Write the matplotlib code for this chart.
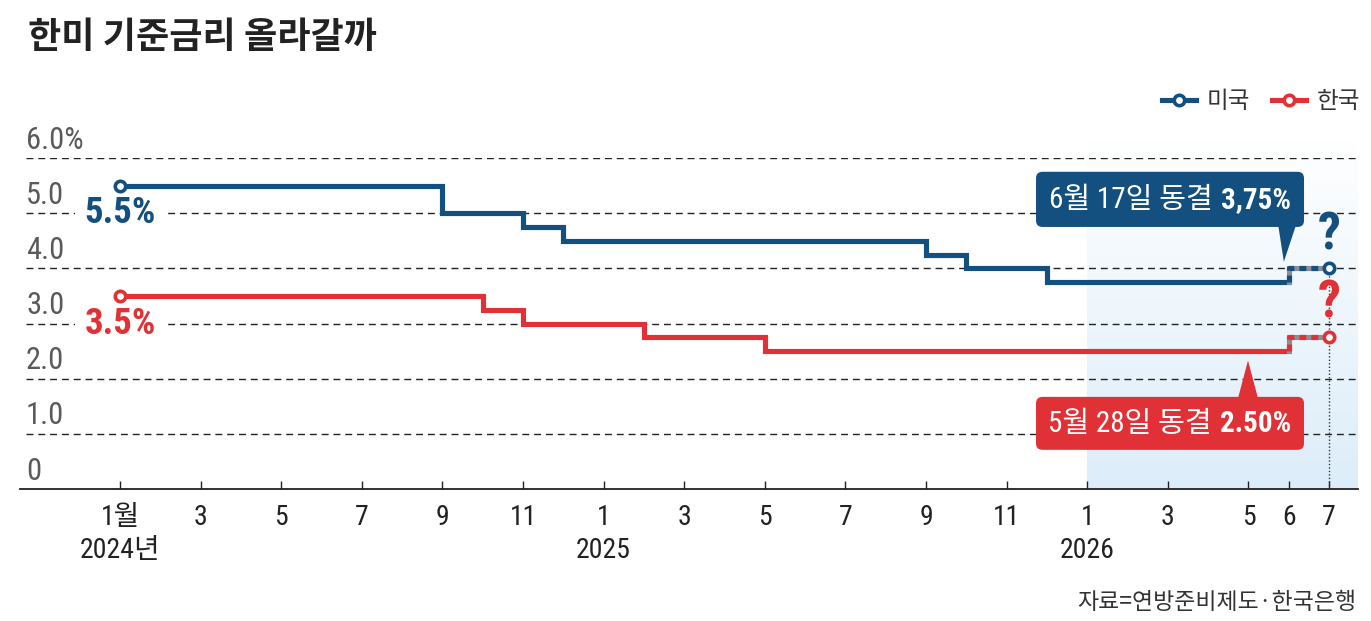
import matplotlib
matplotlib.use("Agg")
import matplotlib.pyplot as plt
import numpy as np
from matplotlib.patches import FancyBboxPatch, Polygon
from matplotlib.lines import Line2D
from matplotlib.colors import LinearSegmentedColormap
from matplotlib.offsetbox import TextArea, HPacker, AnnotationBbox

plt.rcParams['lines.scale_dashes'] = False

# ---------------- data ----------------
# month index: 0 = Jan 2024
us_months = [0, 8, 10, 11, 20, 21, 23]
us_rates = [5.5, 5.0, 4.75, 4.5, 4.25, 4.0, 3.75]
kr_months = [0, 9, 10, 13, 16]
kr_rates = [3.5, 3.25, 3.0, 2.75, 2.5]
latest_month = 29          # Jun 2026
outlook_month = 30         # Jul 2026
us_outlook = 4.0
kr_outlook = 2.75

tick_months = [0, 2, 4, 6, 8, 10, 12, 14, 16, 18, 20, 22, 24, 26, 28, 29, 30]
tick_labels = ['1월', '3', '5', '7', '9', '11', '1', '3', '5', '7', '9', '11',
               '1', '3', '5', '6', '7']
year_months = [0, 12, 24]
year_labels = ['2024년', '2025', '2026']
y_values = [0, 1, 2, 3, 4, 5, 6]
y_labels = ['0', '1.0', '2.0', '3.0', '4.0', '5.0', '6.0%']

BLUE = '#14507f'
RED = '#e03236'
GRAY_TXT = '#5a5a5a'
COND = ['Roboto Condensed', 'Archivo Narrow', 'Noto Sans CJK KR', 'DejaVu Sans']
KR = ['Noto Sans CJK KR', 'DejaVu Sans']

W, H = 1371, 621
fig = plt.figure(figsize=(W / 100, H / 100), dpi=100)
fig.patch.set_facecolor('white')
ax = fig.add_axes([20 / W, (H - 489) / H, 1338 / W, (489 - 158) / H])
px_per_month = 40.3
x_left = (20 - 120) / px_per_month
x_right = (1358 - 120) / px_per_month
ax.set_xlim(x_left, x_right)
ax.set_ylim(0, 6)
for s in ['top', 'right', 'left']:
    ax.spines[s].set_visible(False)
ax.spines['bottom'].set_linewidth(1.3)
ax.spines['bottom'].set_color('#222222')
ax.set_facecolor('none')

# gradient shading for 2026
grad = np.linspace(0, 1, 256).reshape(-1, 1)
cmap = LinearSegmentedColormap.from_list('g', ['#dcedf9', '#ffffff'])
ax.imshow(grad, extent=[24, x_right, 0, 6.33], origin='lower', aspect='auto',
          cmap=cmap, zorder=0, clip_on=False)

# gridlines
for v in y_values[1:]:
    ax.axhline(v, xmin=6 / 1338, xmax=1, color='#222222', lw=1.0,
               dashes=(5, 3.5), zorder=1)

# y labels
for v, lab in zip(y_values, y_labels):
    ax.text(x_left + 6 / px_per_month, v + 0.17, lab, ha='left', va='baseline',
            fontsize=22, color=GRAY_TXT, family=COND, zorder=3)

# ticks
ax.set_xticks(tick_months)
ax.set_xticklabels(tick_labels, fontsize=20, color='#222222', family=COND)
ax.tick_params(axis='x', direction='in', length=6, width=1.0, color='#222222', pad=11)
ax.tick_params(axis='y', left=False, labelleft=False)
for m, lab in zip(year_months, year_labels):
    ax.text(m, -1.12, lab, ha='center', va='center', fontsize=20,
            color='#222222', family=COND, clip_on=False)

# vertical dotted line at outlook
ax.plot([outlook_month, outlook_month], [0, us_outlook], color='#333333',
        lw=1.0, ls=(0, (1, 1.5)), zorder=2)

LW = 3.7
# US line
ax.step(us_months + [latest_month], us_rates + [us_rates[-1]], where='post',
        color=BLUE, lw=LW, solid_joinstyle='miter', solid_capstyle='butt', zorder=4)
ax.plot([latest_month, latest_month, outlook_month], [us_rates[-1], us_outlook, us_outlook],
        color='#8a8f96', lw=LW, solid_joinstyle='miter', zorder=4)
ax.plot([latest_month, latest_month, outlook_month], [us_rates[-1], us_outlook, us_outlook],
        color=BLUE, lw=LW, dashes=(5, 3.6), zorder=4.1)
# KR line
ax.step(kr_months + [latest_month], kr_rates + [kr_rates[-1]], where='post',
        color=RED, lw=LW, solid_joinstyle='miter', solid_capstyle='butt', zorder=4)
ax.plot([latest_month, latest_month, outlook_month], [kr_rates[-1], kr_outlook, kr_outlook],
        color='#8a8f96', lw=LW, solid_joinstyle='miter', zorder=4)
ax.plot([latest_month, latest_month, outlook_month], [kr_rates[-1], kr_outlook, kr_outlook],
        color=RED, lw=LW, dashes=(5, 3.6), zorder=4.1)

# end markers
for xs, ys, c in [([us_months[0], outlook_month], [us_rates[0], us_outlook], BLUE),
                  ([kr_months[0], outlook_month], [kr_rates[0], kr_outlook], RED)]:
    ax.plot(xs, ys, ls='none', marker='o', ms=7.5, mfc='white', mec=c, mew=2.6,
            zorder=5, clip_on=False)

# start value labels
ax.text(us_months[0], 5.0, '5.5%', ha='center', va='center', fontsize=26.5,
        weight='bold', color=BLUE, family=COND, zorder=3,
        bbox=dict(boxstyle='square,pad=0.25', fc='white', ec='none'))
ax.text(kr_months[0], 3.0, '3.5%', ha='center', va='center', fontsize=26.5,
        weight='bold', color=RED, family=COND, zorder=3,
        bbox=dict(boxstyle='square,pad=0.25', fc='white', ec='none'))

# question marks
ax.text(outlook_month, 4.6, '?', ha='center', va='center', fontsize=37,
        weight='bold', color=BLUE, family=COND, zorder=5)
ax.text(outlook_month, 3.37, '?', ha='center', va='center', fontsize=37,
        weight='bold', color=RED, family=COND, zorder=5)

# callout boxes
py = 55.17
aspect = px_per_month / py


def callout(x0, y0, w, h, color, tri, normal, bold):
    box = FancyBboxPatch((x0, y0), w, h,
                         boxstyle='round,pad=0,rounding_size=0.16',
                         mutation_aspect=aspect, fc=color, ec='none', zorder=6)
    ax.add_patch(box)
    ax.add_patch(Polygon(tri, closed=True, fc=color, ec='none', zorder=6))
    t1 = TextArea(normal, textprops=dict(color='white', fontsize=21, family=COND))
    t2 = TextArea(bold, textprops=dict(color='white', fontsize=21, family=COND,
                                        weight='bold'))
    pack = HPacker(children=[t1, t2], sep=6, pad=0, align='baseline')
    ab = AnnotationBbox(pack, (x0 + w / 2, y0 + h / 2 - 0.02), xycoords='data',
                        frameon=False, box_alignment=(0.5, 0.5), zorder=7)
    ax.add_artist(ab)


callout(22.73, 4.75, 6.65, 1.0, BLUE,
        [(28.74, 4.78), (29.18, 4.78), (28.88, 4.12)],
        '6월 17일 동결', '3,75%')
callout(22.73, 0.71, 6.65, 0.96, RED,
        [(27.74, 1.64), (28.24, 1.64), (27.99, 2.33)],
        '5월 28일 동결', '2.50%')

# legend
handles = [Line2D([], [], color=BLUE, lw=LW, marker='o', ms=7.5, mfc='white', mec=BLUE, mew=2.6),
           Line2D([], [], color=RED, lw=LW, marker='o', ms=7.5, mfc='white', mec=RED, mew=2.6)]
leg = fig.legend(handles, ['미국', '한국'], loc='center right',
                 bbox_to_anchor=(1360 / W, (H - 102) / H), ncol=2, frameon=False,
                 prop={'family': KR, 'size': 17}, handlelength=1.45, handletextpad=0.45,
                 columnspacing=0.9, borderpad=0, borderaxespad=0)
for t in leg.get_texts():
    t.set_color('#333333')

# title & source
fig.text(28 / W, (H - 48) / H, '한미 기준금리 올라갈까', fontsize=26, weight='bold',
         color='#222222', family=KR, va='baseline', ha='left')
fig.text(1356 / W, (H - 609) / H, '자료=연방준비제도·한국은행', fontsize=16.5,
         color='#333333', family=KR, va='baseline', ha='right')

fig.savefig('out.png', dpi=100, facecolor='white')
